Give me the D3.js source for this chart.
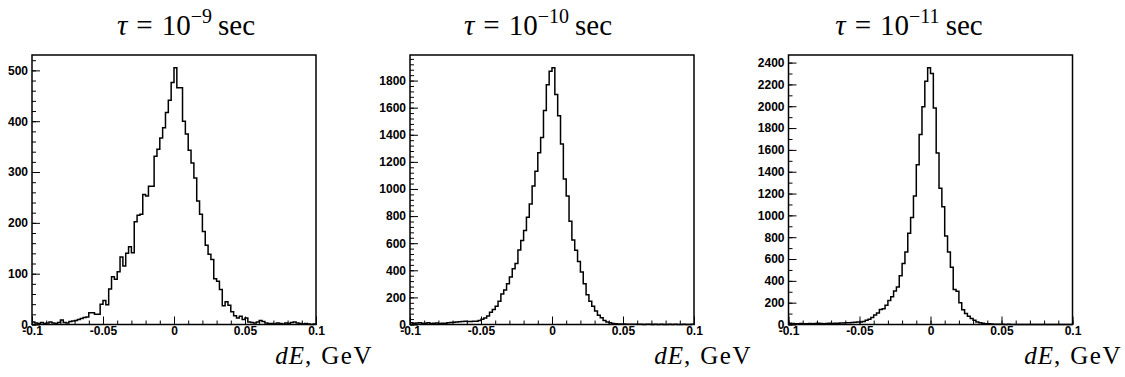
<!DOCTYPE html>
<html>
<head>
<meta charset="utf-8">
<script src="https://cdn.jsdelivr.net/npm/d3@7"></script>
<style>
  body { margin: 0; background: #fff; }
  svg { display: block; }
  .tick text { font-family: "Liberation Sans", Arial, sans-serif; font-weight: bold; font-size: 12px; fill: #000; }
  .ttl, .xlab { font-family: "Liberation Serif", "DejaVu Serif", serif; fill: #000; }
</style>
</head>
<body>
<svg width="1125" height="377"></svg>
<script>
// bin edges: 100 bins from -0.1 to 0.1
let xMin = -0.1, xMax = 0.1, nBins = 100;
let xTicks = [-0.1, -0.05, 0, 0.05, 0.1];

let exponents = ["9", "10", "11"];

// tau = 1e-9 sec
let counts9 = [
  5,3,2,4,2,3,5,3,2,4, 9,4,3,6,7,8,10,12,14,15,
  23,23,20,20,40,47,39,70,94,89, 104,133,115,140,153,141,202,215,217,256,
  253,272,272,331,345,367,387,417,441,476, 505,466,466,400,375,343,318,288,243,217,
  183,156,138,128,90,85,69,37,45,38, 25,17,13,16,10,13,5,4,3,5,
  8,6,3,2,2,1,3,2,1,3, 2,4,5,3,2,1,2,1,0,1
];
// tau = 1e-10 sec
let counts10 = [
  12,10,11,12,9,10,12,8,10,11, 7,9,10,12,14,16,18,20,22,24,
  22,22,24,24,30,38,48,62,90,110, 135,172,225,255,300,350,412,451,550,620,
  694,792,890,1022,1130,1268,1380,1580,1770,1868, 1894,1697,1540,1332,1073,948,761,623,548,465,
  388,300,220,172,135,100,68,50,30,18, 12,8,6,4,3,3,2,2,1,2,
  1,1,0,1,1,0,1,0,1,0, 0,1,0,1,0,0,1,0,0,1
];
// tau = 1e-11 sec
let counts11 = [
  12,10,8,7,9,6,7,10,8,9, 12,10,8,9,12,10,12,11,14,13,
  15,16,18,20,22,24,28,40,48,65, 88,106,137,145,176,221,255,306,343,447,
  558,665,836,980,1178,1465,1742,1995,2230,2352, 2300,1983,1572,1249,1078,810,665,525,321,305,
  200,135,100,76,55,38,24,16,12,8, 6,4,3,3,2,2,1,2,1,1,
  0,1,1,0,1,0,0,1,0,1, 0,0,1,0,0,1,0,0,0,1
];

let series = [counts9, counts10, counts11];

// layout
let fw = 284, fh = 269.5, fTop = 55;
let frameLeft = [32, 410, 788.5];
let titleCx = [186, 538, 909];
let xlabRight = [373, 752, 1122];

let svg = d3.select("svg");

let binW = (xMax - xMin) / nBins;
let x = d3.scaleLinear().domain([xMin, xMax]).range([0, fw]);

series.forEach((vals, k) => {
  let g = svg.append("g").attr("transform", "translate(" + frameLeft[k] + "," + fTop + ")");
  let yMax = d3.max(vals) * 1.05;
  let y = d3.scaleLinear().domain([0, yMax]).range([fh, 0]);

  let yStep = k == 0 ? 100 : 200;
  let yMinor = k == 0 ? 20 : (k == 1 ? 40 : 100);
  let yMajorTicks = d3.range(0, yMax, yStep);
  let yMinorTicks = d3.range(0, yMax, yMinor);

  // minor ticks
  g.append("g")
    .attr("transform", "translate(0," + fh + ")")
    .call(d3.axisBottom(x).tickValues(d3.range(-10, 11).map(d => d / 100)).tickSize(-4).tickFormat(""))
    .call(a => a.select(".domain").remove());
  g.append("g")
    .call(d3.axisLeft(y).tickValues(yMinorTicks).tickSize(-4).tickFormat(""))
    .call(a => a.select(".domain").remove());

  // major ticks + labels
  g.append("g")
    .attr("transform", "translate(0," + fh + ")")
    .call(d3.axisBottom(x).tickValues(xTicks).tickSize(-8).tickPadding(2)
      .tickFormat(d => String(+d.toFixed(2))))
    .call(a => a.select(".domain").remove());
  g.append("g")
    .call(d3.axisLeft(y).tickValues(yMajorTicks).tickSize(-8).tickPadding(4).tickFormat(d3.format("d")))
    .call(a => a.select(".domain").remove());

  g.selectAll(".tick line").attr("stroke", "#000").attr("stroke-width", 1);

  // histogram outline
  let pts = vals.map((v, i) => [xMin + i * binW, v]);
  pts.push([xMax, vals[vals.length - 1]]);
  let line = d3.line().x(d => x(d[0])).y(d => y(d[1])).curve(d3.curveStepAfter);
  g.append("path")
    .attr("d", line(pts))
    .attr("fill", "none")
    .attr("stroke", "#000")
    .attr("stroke-width", 1.5);

  // frame
  g.append("rect")
    .attr("width", fw).attr("height", fh)
    .attr("fill", "none").attr("stroke", "#000").attr("stroke-width", 1.5);

  // title
  let t = svg.append("text").attr("class", "ttl")
    .attr("x", titleCx[k]).attr("y", 35)
    .attr("text-anchor", "middle")
    .attr("font-size", 29);
  t.append("tspan").attr("font-style", "italic").text("τ");
  t.append("tspan").attr("dx", 9).text("=");
  t.append("tspan").attr("dx", 9).text("10");
  t.append("tspan").attr("font-size", 20).attr("dy", -12).text("−" + exponents[k]);
  t.append("tspan").attr("dy", 12).attr("dx", 6).text("sec");

  // x label
  let xl = svg.append("text").attr("class", "xlab")
    .attr("x", xlabRight[k]).attr("y", 364)
    .attr("text-anchor", "end").attr("font-size", 25);
  xl.append("tspan").attr("font-style", "italic").attr("letter-spacing", 1).text("dE");
  xl.append("tspan").text(",");
  xl.append("tspan").attr("dx", 10).attr("letter-spacing", 1.5).text("GeV");
});
</script>
</body>
</html>
